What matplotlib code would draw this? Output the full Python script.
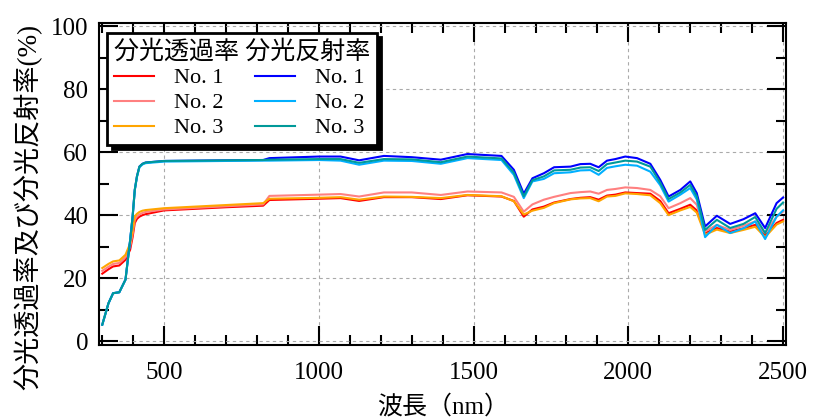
import matplotlib
matplotlib.use("Agg")
import matplotlib.pyplot as plt
from matplotlib.ticker import MultipleLocator

plt.rcParams['font.family'] = ['Liberation Serif', 'Noto Sans CJK JP']

# ── Daten ────────────────────────────────────────────────────────────────────
wavelength = [300, 320, 335, 355, 375, 390, 398, 405, 412, 420, 430, 440, 500, 600, 700, 820, 840,
              1000, 1070, 1130, 1210, 1300, 1394, 1480, 1590, 1630, 1662, 1690, 1727,
              1760, 1813, 1845, 1877, 1904, 1931, 1958, 1990, 2028, 2071, 2103, 2130,
              2168, 2200, 2221, 2248, 2286, 2329, 2372, 2410, 2442, 2479, 2500]

trans_no1 = [21.4, 22.8, 23.7, 24.0, 25.8, 29.0, 33.0, 37.5, 38.8, 39.5, 40.0, 40.3, 41.5, 42.0, 42.5, 43.0, 44.8,
             45.2, 45.4, 44.5, 45.7, 45.7, 45.1, 46.3, 45.9, 44.5, 39.5, 41.8, 42.7,
             44.0, 45.1, 45.5, 45.7, 44.9, 46.2, 46.5, 47.2, 47.0, 46.8, 44.5, 40.6,
             42.0, 43.3, 41.5, 34.3, 35.9, 34.8, 35.8, 36.9, 33.4, 37.5, 38.5]
trans_no2 = [22.3, 23.6, 24.5, 24.8, 26.6, 30.0, 34.0, 38.5, 39.6, 40.2, 40.7, 41.0, 41.8, 42.3, 42.8, 43.4, 46.1,
             46.5, 46.7, 45.9, 47.2, 47.2, 46.4, 47.5, 47.2, 45.8, 41.1, 43.4, 44.9,
             45.8, 47.0, 47.3, 47.5, 46.8, 48.0, 48.3, 48.8, 48.6, 48.0, 46.0, 42.2,
             43.8, 45.4, 43.3, 34.8, 36.9, 35.3, 36.6, 38.0, 34.3, 39.5, 41.1]
trans_no3 = [23.2, 24.5, 25.3, 25.6, 27.4, 31.0, 35.0, 39.6, 40.4, 41.0, 41.4, 41.6, 42.2, 42.7, 43.2, 43.8, 45.2,
             45.5, 45.7, 44.9, 45.9, 45.8, 45.4, 46.4, 46.0, 44.4, 40.2, 41.4, 42.3,
             43.8, 45.0, 45.3, 45.4, 44.4, 45.9, 46.1, 46.9, 46.7, 46.3, 43.8, 40.0,
             41.5, 42.6, 40.8, 33.8, 35.4, 34.3, 35.3, 36.3, 33.0, 37.0, 38.0]

refl_no1 = [5.2, 12.0, 15.2, 15.5, 19.5, 32.0, 39.5, 48.0, 52.3, 55.4, 56.3, 56.7, 57.2, 57.3, 57.4, 57.5, 58.1,
            58.6, 58.6, 57.4, 58.8, 58.4, 57.6, 59.4, 58.8, 54.4, 46.8, 51.7, 53.3,
            55.2, 55.4, 56.2, 56.3, 55.2, 57.3, 57.8, 58.6, 58.1, 56.3, 51.2, 45.9,
            48.0, 50.7, 47.0, 36.4, 39.8, 37.2, 38.7, 40.6, 35.9, 43.8, 45.6]
refl_no2 = [5.2, 12.0, 15.2, 15.5, 19.5, 32.0, 39.5, 48.0, 52.1, 55.2, 56.1, 56.5, 57.0, 57.1, 57.2, 57.3, 57.3,
            57.5, 57.3, 56.0, 57.3, 57.2, 56.3, 58.1, 57.5, 52.8, 45.4, 50.7, 51.5,
            53.3, 53.6, 54.2, 54.3, 52.8, 55.0, 55.5, 56.0, 55.7, 53.8, 49.5, 44.3,
            46.5, 48.6, 45.0, 33.0, 36.9, 34.3, 35.8, 38.0, 32.4, 39.5, 41.5]
refl_no3 = [5.2, 12.0, 15.2, 15.5, 19.5, 32.0, 39.5, 48.0, 52.3, 55.4, 56.3, 56.7, 57.2, 57.3, 57.4, 57.5, 57.6,
            57.8, 57.8, 56.6, 57.8, 57.7, 56.8, 58.6, 58.0, 53.5, 46.0, 51.1, 52.3,
            54.2, 54.4, 55.1, 55.2, 54.0, 56.2, 56.7, 57.3, 57.0, 55.4, 50.3, 45.1,
            47.2, 49.6, 46.0, 35.3, 38.5, 35.9, 37.2, 39.4, 34.3, 42.0, 44.0]

series = [
    (trans_no1, "#ff0000"), (trans_no2, "#ff8080"), (trans_no3, "#ffa500"),
    (refl_no1, "#0000ff"), (refl_no2, "#00b0ff"), (refl_no3, "#009999"),
]
labels = ["No. 1", "No. 2", "No. 3", "No. 1", "No. 2", "No. 3"]

# ── Plot ─────────────────────────────────────────────────────────────────────
fig = plt.figure(figsize=(8.13, 4.19), dpi=100)
ax = fig.add_axes([0.122, 0.177, 0.845, 0.768])

lines = []
for (vals, col) in series:
    ln, = ax.plot(wavelength, vals, color=col, lw=1.5, solid_joinstyle="round")
    lines.append(ln)

ax.set_xlim(290, 2510)
ax.set_ylim(-1.2, 101)
ax.xaxis.set_major_locator(MultipleLocator(500))
ax.xaxis.set_minor_locator(MultipleLocator(100))
ax.yaxis.set_major_locator(MultipleLocator(20))
ax.yaxis.set_minor_locator(MultipleLocator(10))
ax.tick_params(which="both", direction="in", top=True, right=True, width=1.5,
               labelsize=18)
ax.tick_params(axis="x", pad=12)
ax.tick_params(axis="y", pad=8)
ax.tick_params(which="major", length=14)
ax.tick_params(which="minor", length=7)
for s in ax.spines.values():
    s.set_linewidth(1.5)
ax.grid(True, which="major", ls=(0, (3, 3)), color="#aaaaaa", lw=0.8)

ax.set_xlabel("波長（nm）", fontsize=18, labelpad=8)
ax.set_ylabel("分光透過率及び分光反射率(%)", fontsize=19.5)
ax.yaxis.set_label_coords(-0.082, 0.43)

leg = ax.legend(lines, labels, ncol=2, loc="upper left",
                bbox_to_anchor=(0.012, 0.969), title="分光透過率 分光反射率",
                fontsize=16, title_fontsize=18, fancybox=False, alignment="left",
                shadow={"color": "black", "alpha": 1.0, "ox": 3, "oy": -3},
                handlelength=1.8, handletextpad=0.9, columnspacing=1.4,
                labelspacing=0.2, borderpad=0.3, borderaxespad=0.0,
                framealpha=1.0, edgecolor="black")
leg.get_frame().set_linewidth(2)

fig.savefig("out.png", dpi=100)
